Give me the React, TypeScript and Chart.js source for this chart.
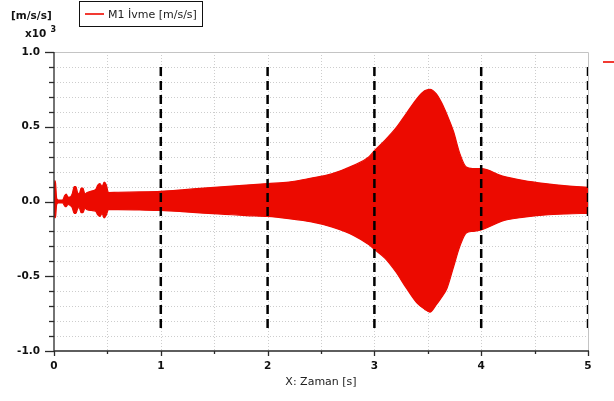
import React, { useEffect, useRef } from 'react';
import { Chart, registerables } from 'chart.js';

Chart.register(...registerables);

// Acceleration record M1: envelope of the oscillation (values in x10^3 m/s/s)
const timeS = [
  0, 0.008, 0.015, 0.025, 0.04, 0.08, 0.1, 0.115, 0.13, 0.15, 0.17, 0.19, 0.205, 0.22, 0.235,
  0.255, 0.27, 0.29, 0.31, 0.35, 0.39, 0.41, 0.43, 0.45, 0.47, 0.49, 0.51, 0.6, 0.8, 1.0,
  1.2, 1.4, 1.6, 1.8, 2.0, 2.2, 2.4, 2.6, 2.8, 2.95, 3.0, 3.1, 3.2, 3.3, 3.4, 3.47, 3.52,
  3.58, 3.63, 3.68, 3.74, 3.8, 3.86, 3.92, 4.0, 4.2, 4.4, 4.6, 4.8, 5.0,
];
const accUpper = [
  0.02, 0.14, 0.12, 0.02, 0.01, 0.01, 0.04, 0.05, 0.03, 0.03, 0.05, 0.1, 0.1, 0.06, 0.05,
  0.09, 0.09, 0.05, 0.06, 0.07, 0.08, 0.11, 0.12, 0.1, 0.13, 0.11, 0.06, 0.062, 0.064, 0.068,
  0.078, 0.09, 0.1, 0.11, 0.12, 0.13, 0.155, 0.185, 0.24, 0.3, 0.34, 0.41, 0.49, 0.59, 0.69, 0.74, 0.75,
  0.72, 0.66, 0.58, 0.47, 0.32, 0.23, 0.22, 0.22, 0.17, 0.14, 0.12, 0.105, 0.095,
];
const accLower = [
  -0.02, -0.11, -0.1, -0.02, -0.01, -0.01, -0.03, -0.035, -0.02, -0.025, -0.04, -0.08, -0.08, -0.05, -0.04,
  -0.075, -0.075, -0.045, -0.055, -0.06, -0.065, -0.09, -0.1, -0.08, -0.11, -0.09, -0.055, -0.055, -0.057, -0.06,
  -0.068, -0.078, -0.086, -0.094, -0.1, -0.115, -0.135, -0.17, -0.225, -0.29, -0.32, -0.38, -0.47, -0.58, -0.68, -0.72, -0.74,
  -0.69, -0.64, -0.58, -0.44, -0.3, -0.21, -0.2, -0.19, -0.13, -0.105, -0.09, -0.083, -0.079,
];

// Vertical dashed markers at whole seconds
const markerTimes = [1, 2, 3, 4, 5];
const markerTop = 0.9;
const markerBottom = -0.86;

const xRange = [0, 5];
const yRange = [-1, 1];
const xTickStep = 0.5;
const yTickStep = 0.1;

const seriesLabel = 'M1 İvme [m/s/s]';
const xAxisTitle = 'X: Zaman [s]';
const yUnit = '[m/s/s]';

const RED = 'rgb(236, 10, 0)';

const isMultiple = (v: number, step: number) => Math.abs(v / step - Math.round(v / step)) < 1e-6;

// Dotted grid, light frame, dark axes and two-length tick marks
const plotFrame = {
  id: 'plotFrame',
  beforeDatasetsDraw(chart: any) {
    const { ctx, chartArea: a, scales } = chart;
    const x = scales.x;
    const y = scales.y;
    ctx.save();
    ctx.strokeStyle = '#cdcdcd';
    ctx.lineWidth = 1;
    ctx.setLineDash([1, 2]);
    y.ticks.forEach((t: any) => {
      const py = Math.round(y.getPixelForValue(t.value)) + 0.5;
      if (py <= a.top + 1 || py >= a.bottom - 1) return;
      ctx.beginPath();
      ctx.moveTo(a.left, py);
      ctx.lineTo(a.right, py);
      ctx.stroke();
    });
    x.ticks.forEach((t: any) => {
      const px = Math.round(x.getPixelForValue(t.value)) + 0.5;
      if (px <= a.left + 1 || px >= a.right - 1) return;
      ctx.beginPath();
      ctx.moveTo(px, a.top);
      ctx.lineTo(px, a.bottom);
      ctx.stroke();
    });
    ctx.setLineDash([]);
    ctx.strokeStyle = '#c4c4c4';
    ctx.beginPath();
    ctx.moveTo(a.left, a.top + 0.5);
    ctx.lineTo(a.right + 0.5, a.top + 0.5);
    ctx.lineTo(a.right + 0.5, a.bottom);
    ctx.stroke();
    ctx.restore();
  },
  afterDatasetsDraw(chart: any) {
    const { ctx, chartArea: a, scales } = chart;
    const x = scales.x;
    const y = scales.y;
    ctx.save();
    ctx.strokeStyle = '#2a2a2a';
    ctx.lineWidth = 1.3;
    ctx.beginPath();
    ctx.moveTo(a.left, a.top);
    ctx.lineTo(a.left, a.bottom);
    ctx.lineTo(a.right + 1, a.bottom);
    ctx.stroke();
    y.ticks.forEach((t: any) => {
      const py = Math.round(y.getPixelForValue(t.value)) + 0.5;
      const len = isMultiple(t.value, 0.5) ? 9 : 5;
      ctx.beginPath();
      ctx.moveTo(a.left - len, py);
      ctx.lineTo(a.left, py);
      ctx.stroke();
    });
    x.ticks.forEach((t: any) => {
      const px = Math.round(x.getPixelForValue(t.value)) + 0.5;
      const len = isMultiple(t.value, 1) ? 5 : 3;
      ctx.beginPath();
      ctx.moveTo(px, a.bottom);
      ctx.lineTo(px, a.bottom + len);
      ctx.stroke();
    });
    ctx.restore();
  },
};

export default function App() {
  const canvasRef = useRef<HTMLCanvasElement | null>(null);

  useEffect(() => {
    document.body.style.margin = '0';
    const canvas = canvasRef.current;
    if (!canvas) return;

    const upper = timeS.map((t, i) => ({ x: t, y: accUpper[i] }));
    const lower = timeS.map((t, i) => ({ x: t, y: accLower[i] }));

    const markerSets = markerTimes.map((t) => ({
      label: `t=${t}`,
      data: [
        { x: t, y: markerTop },
        { x: t, y: markerBottom },
      ],
      borderColor: '#000',
      borderWidth: 2.5,
      borderDash: [9, 5],
      borderCapStyle: 'butt',
      pointRadius: 0,
      fill: false,
      order: 0,
    }));

    const tickFont = { family: 'DejaVu Sans', size: 10.5, weight: 'bold' as const };

    const envelopeStyle = {
      borderColor: RED,
      backgroundColor: RED,
      borderWidth: 1.2,
      pointRadius: 0,
      cubicInterpolationMode: 'monotone',
      order: 1,
    };

    const chart = new Chart(canvas, {
      type: 'line',
      data: {
        datasets: [
          ...markerSets,
          { label: seriesLabel, data: upper, fill: '+1', ...envelopeStyle },
          { label: seriesLabel + ' (min)', data: lower, fill: false, ...envelopeStyle },
        ] as any,
      },
      options: {
        animation: false,
        responsive: false,
        devicePixelRatio: 1,
        layout: { padding: { left: 0, right: 26, top: 52, bottom: 12 } },
        plugins: {
          legend: { display: false },
          tooltip: { enabled: false },
        },
        scales: {
          x: {
            type: 'linear',
            min: xRange[0],
            max: xRange[1],
            grid: { display: false, drawTicks: false },
            border: { display: false },
            ticks: {
              stepSize: xTickStep,
              autoSkip: false,
              maxRotation: 0,
              padding: 9,
              color: '#111',
              font: tickFont,
              callback: (v: any) => (isMultiple(Number(v), 1) ? String(Math.round(Number(v))) : ''),
            },
            title: {
              display: true,
              text: xAxisTitle,
              color: '#222',
              font: { family: 'DejaVu Sans', size: 11 },
              padding: { top: 0, bottom: 0 },
            },
            afterFit: (s: any) => {
              s.height = 38;
            },
          },
          y: {
            type: 'linear',
            min: yRange[0],
            max: yRange[1],
            grid: { display: false, drawTicks: false },
            border: { display: false },
            ticks: {
              stepSize: yTickStep,
              autoSkip: false,
              padding: 14,
              color: '#111',
              font: tickFont,
              callback: (v: any) => (isMultiple(Number(v), 0.5) ? Number(v).toFixed(1) : ''),
            },
            afterFit: (s: any) => {
              s.width = 54;
            },
          },
        },
      } as any,
      plugins: [plotFrame],
    });

    return () => chart.destroy();
  }, []);

  return (
    <div
      style={{
        position: 'fixed',
        left: 0,
        top: 0,
        width: 614,
        height: 401,
        background: '#fff',
        overflow: 'hidden',
      }}
    >
      <canvas ref={canvasRef} width={614} height={401} style={{ display: 'block' }} />
      <div
        style={{
          position: 'absolute',
          left: 11,
          top: 7,
          font: 'bold 10.5px "DejaVu Sans"',
          color: '#111',
          lineHeight: '16px',
        }}
      >
        {yUnit}
      </div>
      <div
        style={{
          position: 'absolute',
          left: 25,
          top: 25,
          font: 'bold 10.5px "DejaVu Sans"',
          color: '#111',
          lineHeight: '16px',
          whiteSpace: 'nowrap',
        }}
      >
        x10
        <span style={{ fontSize: 8, marginLeft: 4, position: 'relative', top: -5 }}>3</span>
      </div>
      <div
        style={{
          position: 'absolute',
          left: 79,
          top: 1,
          width: 124,
          height: 26,
          border: '1px solid #111',
          background: '#fff',
          boxSizing: 'border-box',
          display: 'flex',
          alignItems: 'center',
          whiteSpace: 'nowrap',
        }}
      >
        <span
          style={{
            display: 'inline-block',
            width: 19,
            height: 2,
            background: '#f23a32',
            marginLeft: 5,
            marginRight: 4,
          }}
        />
        <span style={{ font: '11px "DejaVu Sans"', color: '#222' }}>{seriesLabel}</span>
      </div>
      <div
        style={{
          position: 'absolute',
          left: 603,
          top: 61,
          width: 11,
          height: 2,
          background: '#f23a32',
        }}
      />
    </div>
  );
}
